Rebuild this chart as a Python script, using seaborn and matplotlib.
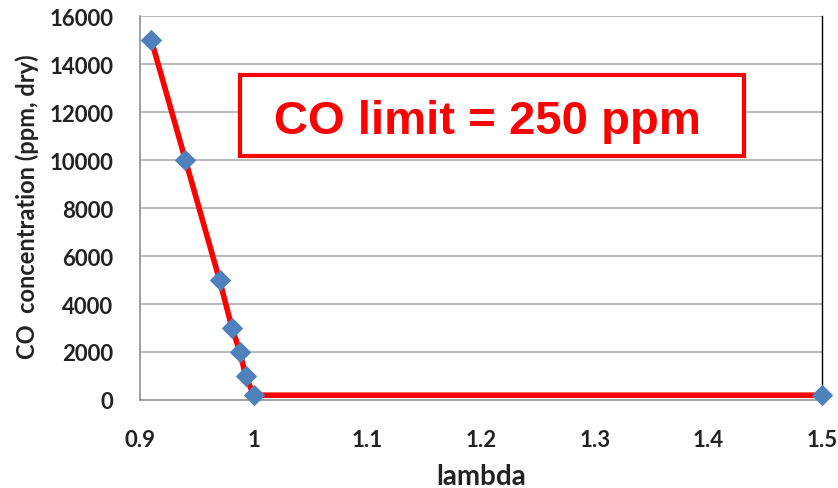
import numpy as np
import pandas as pd
import matplotlib
matplotlib.use('Agg')
import matplotlib.pyplot as plt
import seaborn as sns
from matplotlib.patches import Rectangle

# data
lam = [0.91, 0.94, 0.97, 0.981, 0.988, 0.993, 1.0, 1.5]
co = [15000, 10000, 5000, 3000, 2000, 1000, 200, 200]
yticks = [0, 2000, 4000, 6000, 8000, 10000, 12000, 14000, 16000]
xticks = [0.9, 1.0, 1.1, 1.2, 1.3, 1.4, 1.5]
xticklabels = ['0.9', '1', '1.1', '1.2', '1.3', '1.4', '1.5']

df = pd.DataFrame({'lambda': lam, 'CO': co})

sns.set_style('white')
plt.rcParams['font.family'] = ['Lato', 'DejaVu Sans']

fig = plt.figure(figsize=(8.38, 4.89), dpi=100)
ax = fig.add_axes([0.167, 0.18, 0.814, 0.785])

for y in yticks[1:]:
    ax.axhline(y, color='#A6A6A6', lw=1.1, zorder=0)

sns.lineplot(data=df, x='lambda', y='CO', ax=ax, color='#FF0000', lw=4,
             marker='D', markersize=10, markerfacecolor='#4F81BD',
             markeredgecolor='#4F81BD', zorder=3, clip_on=False)

ax.set_xlim(0.9, 1.5)
ax.set_ylim(0, 16000)
ax.set_xticks(xticks)
ax.set_xticklabels(xticklabels)
ax.set_yticks(yticks)
ax.tick_params(axis='both', labelsize=16, length=0)
ax.tick_params(axis='x', pad=21)
ax.tick_params(axis='y', pad=19)
for lab in ax.get_xticklabels() + ax.get_yticklabels():
    lab.set_fontweight('bold')
    lab.set_color('#222222')

ax.set_xlabel('lambda', fontsize=20, fontweight='bold', color='#222222', va='center')
ax.xaxis.set_label_coords(0.5, -0.198)
ax.set_ylabel('CO  concentration (ppm, dry)', fontsize=17, fontweight='bold',
              color='#222222', va='center')
ax.yaxis.set_label_coords(-0.165, 0.505)

for s in ['left', 'bottom']:
    ax.spines[s].set_color('#888888')
    ax.spines[s].set_linewidth(1.1)
ax.spines['top'].set_visible(False)
ax.spines['right'].set_color('#000000')
ax.spines['right'].set_linewidth(1.0)

# annotation box
ax.add_patch(Rectangle((0.1466, 0.635), 0.739, 0.211, transform=ax.transAxes,
                       facecolor='white', edgecolor='#FF0000', lw=3, zorder=5))
ax.text(0.509, 0.695, 'CO limit = 250 ppm', transform=ax.transAxes,
        ha='center', va='baseline', fontsize=34, fontweight='bold',
        color='#FF0000', family=['Liberation Sans', 'DejaVu Sans'], zorder=6)

fig.savefig('out.png', dpi=100)
